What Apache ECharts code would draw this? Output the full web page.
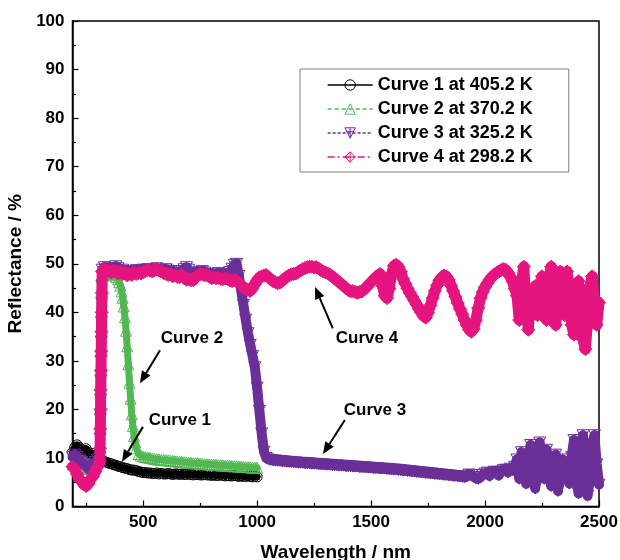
<!DOCTYPE html>
<html>
<head>
<meta charset="utf-8">
<script src="https://cdn.jsdelivr.net/npm/echarts@6/dist/echarts.min.js"></script>
<style>
  html, body { margin: 0; padding: 0; background: #fff; }
  #chart { width: 620px; height: 560px; }
</style>
</head>
<body>
<div id="chart"></div>
<script>
// wavelength grid: every series is sampled from wlStart in steps of wlStep (nm)
var wlStart = 190;
var wlStep = 10;

var names = ['Curve 1 at 405.2 K', 'Curve 2 at 370.2 K', 'Curve 3 at 325.2 K', 'Curve 4 at 298.2 K'];
var colors = ['#000000', '#52b752', '#6b2f98', '#e5157f'];

var xMajorTicks = [500, 1000, 1500, 2000, 2500];
var xMinorTicks = [250, 750, 1250, 1750, 2250];

// curve 1, 190 .. 1000 nm
var refl1 = [
  11.2, 12.2, 12.7, 12.2, 11.7, 11.2, 11.9, 11.1, 10.5, 10.9, // 190
  10.0, 9.4, 8.9, 9.2, 9.3, 9.1, 8.9, 8.8, 8.6, 8.5,          // 290
  8.3, 8.2, 8.0, 7.9, 7.8, 7.6, 7.5, 7.5, 7.4, 7.2,           // 390
  7.1, 7.0, 7.0, 6.9, 6.9, 6.8, 6.8, 6.9, 6.7, 6.8,           // 490
  6.7, 6.7, 6.8, 6.7, 6.6, 6.7, 6.7, 6.6, 6.7, 6.6,           // 590
  6.6, 6.7, 6.6, 6.5, 6.6, 6.6, 6.5, 6.5, 6.6, 6.5,           // 690
  6.5, 6.4, 6.5, 6.4, 6.4, 6.5, 6.4, 6.3, 6.4, 6.3,           // 790
  6.3, 6.4, 6.3, 6.2, 6.3, 6.2, 6.2, 6.3, 6.2, 6.1,           // 890
  6.2, 6.1                                                    // 990
];

// curve 2, 190 .. 1000 nm
var refl2 = [
  8.7, 9.2, 9.5, 9.2, 8.7, 8.2, 7.7, 7.9, 8.5, 8.9,           // 190
  9.2, 9.5, 9.7, 47.8, 48.3, 48.1, 47.8, 47.9, 47.6, 47.3,    // 290
  46.8, 45.5, 43.0, 39.0, 33.0, 25.5, 19.0, 14.5, 12.0, 10.8, // 390
  10.5, 10.3, 10.2, 10.1, 10.0, 9.9, 9.8, 9.7, 9.7, 9.6,      // 490
  9.6, 9.5, 9.5, 9.4, 9.4, 9.3, 9.3, 9.2, 9.2, 9.1,           // 590
  9.1, 9.0, 9.0, 8.9, 8.9, 8.9, 8.8, 8.8, 8.7, 8.7,           // 690
  8.7, 8.6, 8.6, 8.6, 8.5, 8.5, 8.5, 8.4, 8.4, 8.4,           // 790
  8.3, 8.3, 8.3, 8.2, 8.2, 8.2, 8.1, 8.1, 8.1, 8.0,           // 890
  8.0, 8.0                                                    // 990
];

// curve 3, 190 .. 2500 nm
var refl3 = [
  10.2, 10.7, 10.2, 9.7, 9.2, 8.7, 8.2, 7.7, 8.2, 8.7,        // 190
  9.2, 9.7, 10.2, 48.8, 49.3, 48.8, 49.1, 48.6, 48.9, 49.5,   // 290
  49.1, 48.5, 48.8, 48.3, 48.1, 48.5, 48.2, 48.4, 48.7, 48.3, // 390
  48.6, 48.8, 48.5, 48.9, 48.7, 48.4, 48.8, 49.1, 48.7, 48.3, // 490
  48.5, 48.9, 48.6, 48.2, 48.5, 47.9, 47.7, 48.1, 48.5, 48.9, // 590
  49.3, 48.8, 48.1, 47.7, 47.9, 48.1, 48.3, 48.5, 48.2, 47.9, // 690
  47.6, 47.8, 47.5, 47.8, 48.1, 47.6, 47.5, 47.8, 47.9, 48.3, // 790
  49.0, 49.8, 50.0, 47.5, 44.5, 41.5, 38.5, 35.7, 33.3, 31.0, // 890
  28.7, 24.5, 19.7, 15.1, 11.3, 10.0, 9.7, 9.6, 9.5, 9.5,     // 990
  9.4, 9.4, 9.3, 9.3, 9.2, 9.2, 9.2, 9.1, 9.1, 9.0,           // 1090
  9.0, 9.0, 8.9, 8.9, 8.9, 8.8, 8.8, 8.8, 8.7, 8.7,           // 1190
  8.7, 8.6, 8.6, 8.6, 8.5, 8.5, 8.5, 8.4, 8.4, 8.4,           // 1290
  8.3, 8.3, 8.3, 8.2, 8.2, 8.2, 8.1, 8.1, 8.1, 8.0,           // 1390
  8.0, 8.0, 7.9, 7.9, 7.9, 7.8, 7.8, 7.8, 7.7, 7.7,           // 1490
  7.6, 7.6, 7.6, 7.5, 7.5, 7.4, 7.4, 7.3, 7.3, 7.2,           // 1590
  7.2, 7.1, 7.1, 7.0, 7.0, 6.9, 6.9, 6.8, 6.8, 6.7,           // 1690
  6.7, 6.6, 6.6, 6.5, 6.5, 6.4, 6.4, 6.3, 6.3, 6.2,           // 1790
  6.2, 6.1, 6.0, 6.2, 6.6, 6.5, 6.1, 5.8, 5.7, 6.0,           // 1890
  6.5, 6.8, 7.0, 6.3, 6.9, 7.2, 7.1, 6.4, 7.2, 7.5,           // 1990
  7.6, 7.0, 7.8, 7.4, 8.2, 9.7, 5.7, 11.2, 7.7, 4.7,          // 2090
  9.7, 12.7, 6.7, 3.7, 8.7, 13.2, 9.7, 5.7, 11.7, 7.7,        // 2190
  4.2, 8.7, 10.7, 3.2, 6.7, 9.7, 5.7, 8.7, 4.7, 10.2,         // 2290
  13.7, 6.7, 2.7, 10.7, 14.7, 7.7, 2.2, 5.7, 12.7, 14.7,      // 2390
  8.7, 4.5                                                    // 2490
];

// curve 4, 190 .. 2500 nm
var refl4 = [
  8.2, 7.7, 6.7, 5.7, 5.2, 4.5, 4.2, 4.7, 5.7, 6.2,           // 190
  7.2, 8.2, 9.2, 48.4, 48.9, 48.4, 48.7, 48.2, 48.6, 48.4,    // 290
  48.0, 48.4, 47.9, 48.2, 47.6, 48.0, 47.7, 48.2, 47.9, 48.1, // 390
  48.0, 48.3, 48.5, 48.7, 48.6, 48.4, 48.7, 48.8, 48.6, 48.4, // 490
  48.1, 47.9, 47.7, 47.9, 47.4, 47.6, 47.3, 47.2, 47.7, 47.1, // 590
  46.7, 46.9, 46.6, 46.6, 47.2, 47.6, 47.9, 47.8, 47.6, 47.7, // 690
  47.4, 47.0, 47.2, 47.0, 47.1, 46.9, 46.8, 47.0, 46.9, 46.6, // 790
  46.4, 46.7, 46.5, 46.0, 45.6, 45.2, 44.8, 44.6, 44.4, 45.0, // 890
  45.8, 46.6, 47.2, 47.4, 47.6, 47.7, 47.2, 46.8, 46.4, 46.2, // 990
  46.0, 46.1, 46.5, 46.9, 47.3, 47.6, 47.8, 47.9, 48.0, 48.3, // 1090
  48.6, 48.9, 49.1, 49.3, 49.4, 49.4, 49.2, 49.3, 49.0, 48.7, // 1190
  48.4, 48.2, 48.0, 47.7, 47.4, 47.0, 46.6, 46.2, 45.8, 45.4, // 1290
  45.0, 44.6, 44.3, 44.4, 44.2, 44.0, 44.2, 44.3, 44.7, 45.2, // 1390
  45.7, 46.2, 46.7, 47.2, 47.6, 47.9, 45.4, 43.4, 42.9, 44.9, // 1490
  47.9, 49.6, 49.8, 49.4, 48.4, 46.9, 45.9, 44.9, 44.0, 43.2, // 1590
  42.4, 41.6, 40.7, 39.9, 39.2, 38.9, 39.9, 41.4, 42.9, 44.4, // 1690
  45.6, 46.6, 47.2, 47.6, 47.4, 46.7, 45.6, 44.4, 43.2, 41.9, // 1790
  40.7, 39.6, 38.4, 37.4, 36.4, 36.0, 36.6, 38.4, 40.9, 42.9, // 1890
  44.2, 45.2, 46.0, 46.7, 47.3, 47.7, 48.1, 48.4, 48.7, 48.9, // 1990
  48.8, 48.2, 47.4, 46.4, 44.9, 43.4, 38.4, 46.4, 49.4, 41.4, // 2090
  36.4, 44.4, 40.4, 45.4, 39.4, 43.4, 47.4, 41.4, 38.4, 46.4, // 2190
  49.4, 42.4, 37.4, 45.4, 48.4, 43.4, 39.4, 48.4, 44.4, 37.4, // 2290
  35.4, 42.4, 46.4, 40.4, 34.4, 32.4, 38.4, 45.4, 47.4, 41.4, // 2390
  37.4, 42.0                                                  // 2490
];

// extra readings on the steep edges (markers stacked in the picture)
var riseWl = [311, 312, 313, 314, 315, 316, 317, 318, 319];
var rise2 = [13, 17, 21, 25, 29, 33, 37, 41, 44.5];
var rise3 = [14, 18, 22, 26, 30, 34, 38, 42, 45.5];
var rise4 = [12, 16, 20, 24, 28, 32, 36, 40, 44];
var dropWl2 = [395, 405, 415, 425, 435, 445, 455, 465];
var drop2 = [46.2, 44.3, 41.2, 36.2, 29.3, 22.2, 16.6, 13.2];

// arrow annotations: label centre, arrow tail, arrow tip (data coords)
var notes = [
  { text: 'Curve 1', at: [661, 17.8], from: [499, 16.4], to: [407, 9.2] },
  { text: 'Curve 2', at: [714, 34.7], from: [574, 32.2], to: [486, 25.4] },
  { text: 'Curve 4', at: [1482, 34.7], from: [1332, 36.7], to: [1254, 45.2] },
  { text: 'Curve 3', at: [1517, 19.9], from: [1385, 17.8], to: [1289, 10.8] }
];

function toPairs(vals, extras) {
  var pts = vals.map(function (v, i) { return [wlStart + i * wlStep, v]; });
  (extras || []).forEach(function (e) {
    e[0].forEach(function (x, i) { pts.push([x, e[1][i]]); });
  });
  return pts.sort(function (a, b) { return a[0] - b[0]; });
}

var font = "'Liberation Sans', Arial, sans-serif";
var downTri = 'path://M0,0 L10,0 L5,9 Z M5,0 L5,9 M1.6,3 L8.4,3';
var diaCross = 'path://M5,0 L10,5 L5,10 L0,5 Z M5,0 L5,10 M0,5 L10,5';
var hollow = 'rgba(255,255,255,0)';
var dashes = ['solid', [4, 3], [3, 2], [7, 3, 2, 3]];

// the dense scans overlap into a solid band, so the plotted line is drawn wide
function curve(i, symbol, size, bandWidth, data) {
  return {
    name: names[i],
    type: 'line',
    data: data,
    symbol: symbol,
    symbolSize: size,
    symbolKeepAspect: true,
    showSymbol: true,
    showAllSymbol: true,
    lineStyle: { color: colors[i], width: bandWidth, type: 'solid', join: 'round', cap: 'round' },
    itemStyle: { color: hollow, borderColor: colors[i], borderWidth: 1 },
    emphasis: { disabled: true },
    z: 2 + i
  };
}

var chart = echarts.init(document.getElementById('chart'));

var option = {
  animation: false,
  backgroundColor: '#fff',
  textStyle: { fontFamily: font },
  grid: {
    left: 72.5, right: 21, top: 21, bottom: 53.5,
    outerBoundsMode: 'none',
    show: true, borderColor: '#000', borderWidth: 1.5
  },
  legend: {
    orient: 'vertical',
    left: 300,
    top: 69,
    padding: [7, 36, 6, 27],
    itemWidth: 45,
    itemHeight: 13,
    itemGap: 6,
    borderColor: '#808080',
    borderWidth: 1,
    data: names.map(function (n, i) {
      return {
        name: n,
        itemStyle: { color: hollow, borderColor: colors[i], borderWidth: 1 },
        lineStyle: { color: colors[i], width: 1.3, type: dashes[i], cap: 'butt' }
      };
    }),
    textStyle: { fontFamily: font, fontWeight: 'bold', fontSize: 18, color: '#000', lineHeight: 18 }
  },
  xAxis: [
    {
      type: 'value',
      min: 190,
      max: 2500,
      name: 'Wavelength / nm',
      nameLocation: 'middle',
      nameGap: 37,
      nameTextStyle: { fontFamily: font, fontWeight: 'bold', fontSize: 19, color: '#000' },
      axisLine: { lineStyle: { color: '#000', width: 1.5 } },
      axisTick: { inside: true, length: 6, customValues: xMajorTicks, lineStyle: { color: '#000', width: 1.2 } },
      axisLabel: {
        customValues: xMajorTicks, margin: 7,
        formatter: function (v) { return String(v); },
        fontFamily: font, fontWeight: 'bold', fontSize: 17, color: '#000'
      },
      splitLine: { show: false }
    },
    {
      type: 'value',
      min: 190,
      max: 2500,
      position: 'bottom',
      axisLine: { show: false },
      axisTick: { inside: true, length: 3.5, customValues: xMinorTicks, lineStyle: { color: '#000', width: 1.2 } },
      axisLabel: { show: false },
      splitLine: { show: false }
    }
  ],
  yAxis: {
    type: 'value',
    min: 0,
    max: 100,
    interval: 10,
    name: 'Reflectance / %',
    nameLocation: 'middle',
    nameGap: 42,
    nameTextStyle: { fontFamily: font, fontWeight: 'bold', fontSize: 19, color: '#000' },
    axisLine: { show: true, lineStyle: { color: '#000', width: 1.5 } },
    axisTick: { inside: true, length: 6, lineStyle: { color: '#000', width: 1.2 } },
    minorTick: { show: true, splitNumber: 2, length: 3.5, lineStyle: { color: '#000', width: 1.2 } },
    axisLabel: { margin: 8, fontFamily: font, fontWeight: 'bold', fontSize: 17, color: '#000' },
    splitLine: { show: false }
  },
  series: [
    curve(0, 'circle', 10, 7, toPairs(refl1)),
    curve(1, 'triangle', 11, 7, toPairs(refl2, [[riseWl, rise2], [dropWl2, drop2]])),
    curve(2, downTri, 12, 10, toPairs(refl3, [[riseWl, rise3]])),
    curve(3, diaCross, 13, 11, toPairs(refl4, [[riseWl, rise4]]))
  ]
};

chart.setOption(option);

// arrows and labels, placed through the axes
var graphics = [];
notes.forEach(function (n) {
  var p = chart.convertToPixel({ xAxisIndex: 0, yAxisIndex: 0 }, n.at);
  var a = chart.convertToPixel({ xAxisIndex: 0, yAxisIndex: 0 }, n.from);
  var b = chart.convertToPixel({ xAxisIndex: 0, yAxisIndex: 0 }, n.to);
  var dx = b[0] - a[0], dy = b[1] - a[1];
  var len = Math.sqrt(dx * dx + dy * dy);
  var ux = dx / len, uy = dy / len;
  var bx = b[0] - ux * 12, by = b[1] - uy * 12;
  graphics.push({
    type: 'line', z: 100,
    shape: { x1: a[0], y1: a[1], x2: bx, y2: by },
    style: { stroke: '#000', lineWidth: 2 }
  });
  graphics.push({
    type: 'polygon', z: 100,
    shape: { points: [[b[0], b[1]], [bx - uy * 5, by + ux * 5], [bx + uy * 5, by - ux * 5]] },
    style: { fill: '#000' }
  });
  graphics.push({
    type: 'text', z: 100, x: p[0], y: p[1],
    style: { text: n.text, fill: '#000', font: 'bold 17px ' + font, align: 'center', verticalAlign: 'middle' }
  });
});
chart.setOption({ graphic: graphics });
</script>
</body>
</html>
